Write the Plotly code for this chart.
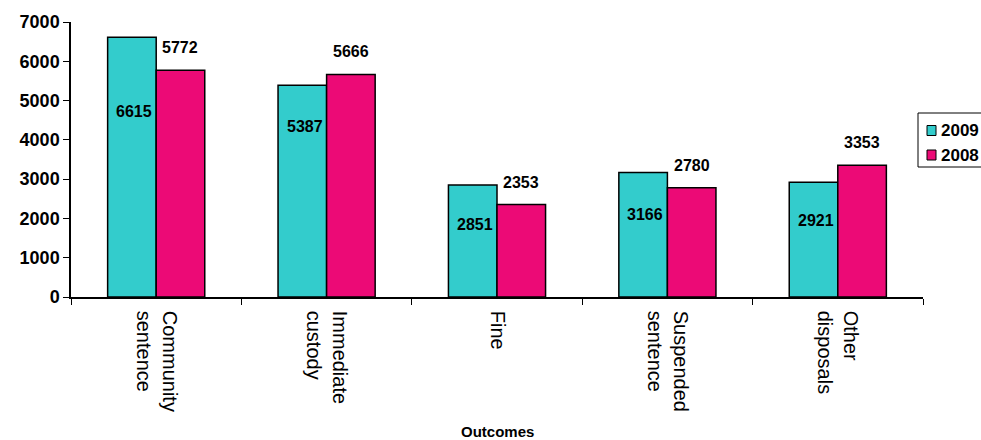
import plotly.graph_objects as go

# Sentencing outcomes, 2009 vs 2008
categories = ["Community<br>sentence", "Immediate<br>custody", "Fine",
              "Suspended<br>sentence", "Other<br>disposals"]
series_names = ["2009", "2008"]
values_2009 = [6615, 5387, 2851, 3166, 2921]
values_2008 = [5772, 5666, 2353, 2780, 3353]
y_ticks = [0, 1000, 2000, 3000, 4000, 5000, 6000, 7000]

TEAL = "#33CCCC"
MAGENTA = "#EC0A76"
FONT = "Liberation Sans, Arial, sans-serif"
BARGAP = 0.43
half = (1 - BARGAP) / 2  # width of one bar in category units

W, H = 981, 440
M_L, M_R, M_T, M_B = 71, 58, 22, 143
PW, PH = W - M_L - M_R, H - M_T - M_B


def px_x(px):
    """Page x pixel -> paper x coordinate."""
    return (px - M_L) / PW


def px_y(py):
    """Page y pixel -> paper y coordinate."""
    return (H - M_B - py) / PH


# pixel drop of the 2009 labels below each bar top
drop_2009 = [64, 31, 29, 31, 28]

fig = go.Figure()
fig.add_trace(go.Bar(name=series_names[0], x=categories, y=values_2009,
                     marker=dict(color=TEAL, line=dict(color="black", width=1.5))))
fig.add_trace(go.Bar(name=series_names[1], x=categories, y=values_2008,
                     marker=dict(color=MAGENTA, line=dict(color="black", width=1.5))))

bold16 = dict(family=FONT, size=16, color="black", weight="bold")
annotations = []
for i, (v9, v8) in enumerate(zip(values_2009, values_2008)):
    annotations.append(dict(x=i, y=v9, xref="x", yref="y", text=str(v9),
                            showarrow=False, xanchor="right", yanchor="top",
                            xshift=-2, yshift=-drop_2009[i], font=bold16))
    annotations.append(dict(x=i + half / 2, y=v8, xref="x", yref="y", text=str(v8),
                            showarrow=False, xanchor="center", yanchor="bottom",
                            yshift=12, font=bold16))
annotations.append(dict(x=0.5, y=-0.49, xref="paper", yref="paper", text="Outcomes",
                        showarrow=False, xanchor="center", yanchor="middle",
                        font=dict(family=FONT, size=15, color="black", weight="bold")))

# Legend box drawn with shapes so it can sit tight against the right edge
shapes = [dict(type="rect", xref="paper", yref="paper",
               x0=px_x(918), x1=px_x(995), y0=px_y(167), y1=px_y(113),
               line=dict(color="black", width=1), fillcolor="white", layer="above")]
for name, color, cy in zip(series_names, [TEAL, MAGENTA], [130.5, 155]):
    shapes.append(dict(type="rect", xref="paper", yref="paper",
                       x0=px_x(927), x1=px_x(936), y0=px_y(cy + 5), y1=px_y(cy - 5),
                       line=dict(color="black", width=1), fillcolor=color, layer="above"))
    annotations.append(dict(x=px_x(939), y=px_y(cy), xref="paper", yref="paper",
                            text=name, showarrow=False, xanchor="left", yanchor="middle",
                            font=dict(family=FONT, size=17, color="black", weight="bold")))

fig.update_layout(
    width=W, height=H,
    margin=dict(l=M_L, r=M_R, t=M_T, b=M_B, autoexpand=False),
    paper_bgcolor="white", plot_bgcolor="white",
    barmode="group", bargap=BARGAP, bargroupgap=0,
    font=dict(family=FONT, color="black"),
    annotations=annotations, shapes=shapes,
    showlegend=False,
)
fig.update_xaxes(
    type="category", showline=True, linecolor="black", linewidth=1.5,
    ticks="outside", tickson="boundaries", ticklen=6, tickcolor="black",
    tickangle=90, ticklabelstandoff=8,
    tickfont=dict(family=FONT, size=20, color="black"),
    showgrid=False, zeroline=False, automargin=False,
)
fig.update_yaxes(
    range=[0, 7000], tickvals=y_ticks, showline=True, linecolor="black", linewidth=1.5,
    ticks="outside", ticklen=6, tickcolor="black",
    tickfont=dict(family=FONT, size=18, color="black", weight="bold"),
    showgrid=False, zeroline=False, automargin=False,
)

fig.write_html("out.html")
